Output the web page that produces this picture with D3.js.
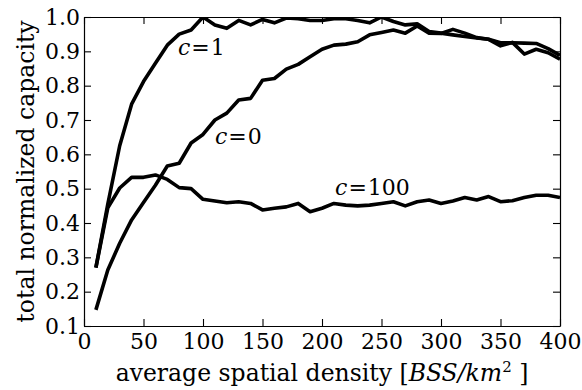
<!DOCTYPE html>
<html>
<head>
<meta charset="utf-8">
<title>Capacity vs density</title>
<script src="https://d3js.org/d3.v7.min.js"></script>
<style>
  body { margin: 0; background: #fff; }
  svg { display: block; }
  text { font-family: "DejaVu Serif", serif; fill: #000; }
</style>
</head>
<body>
<svg id="chart" width="582" height="390"></svg>
<script>
// average spatial density [BSS/km^2]
var density = [10,20,30,40,50,60,70,80,90,100,110,120,130,140,150,160,170,180,190,200,
               210,220,230,240,250,260,270,280,290,300,310,320,330,340,350,360,370,380,390,400];

var c1 = [0.27,0.455,0.625,0.746,0.812,0.865,0.918,0.95,0.962,1.0,
          0.977,0.967,0.99,0.977,0.993,0.983,0.997,0.995,0.99,0.99,
          0.995,0.995,0.99,0.983,1.0,0.987,0.977,0.98,0.958,0.953,
          0.948,0.943,0.939,0.935,0.925,0.925,0.924,0.923,0.908,0.888];

var c0 = [0.147,0.263,0.341,0.409,0.46,0.51,0.566,0.574,0.633,0.658,
          0.70,0.72,0.758,0.763,0.816,0.821,0.848,0.862,0.884,0.906,
          0.918,0.921,0.928,0.948,0.955,0.962,0.953,0.974,0.953,0.952,
          0.964,0.953,0.94,0.935,0.916,0.926,0.892,0.906,0.896,0.877];

var c100 = [0.27,0.444,0.502,0.533,0.533,0.54,0.527,0.503,0.50,0.469,
            0.464,0.459,0.462,0.457,0.438,0.443,0.447,0.457,0.433,0.443,
            0.457,0.452,0.45,0.452,0.457,0.462,0.45,0.462,0.467,0.457,
            0.464,0.474,0.467,0.477,0.462,0.465,0.474,0.481,0.481,0.474];

var xTicks = [0,50,100,150,200,250,300,350,400];
var yTicks = [0.1,0.2,0.3,0.4,0.5,0.6,0.7,0.8,0.9,1.0];

var series = [
  {name: "1", values: c1, lx: 79, ly: 0.888},
  {name: "0", values: c0, lx: 110, ly: 0.63},
  {name: "100", values: c100, lx: 211, ly: 0.481}
];

var m = {top: 17, right: 22, bottom: 64, left: 84};
var W = 582, H = 390;
var w = W - m.left - m.right, h = H - m.top - m.bottom;

var svg = d3.select("#chart");
var g = svg.append("g").attr("transform", `translate(${m.left},${m.top})`);

var x = d3.scaleLinear().domain([0, 400]).range([0, w]);
var y = d3.scaleLinear().domain([0.1, 1.0]).range([h, 0]);

g.append("clipPath").attr("id", "clip")
  .append("rect").attr("width", w).attr("height", h);

var line = d3.line()
  .x((d, i) => x(density[i]))
  .y(d => y(d));

g.append("g").attr("clip-path", "url(#clip)")
  .selectAll("path")
  .data(series)
  .join("path")
  .attr("d", d => line(d.values))
  .attr("fill", "none")
  .attr("stroke", "#000")
  .attr("stroke-width", 3.6)
  .attr("stroke-linejoin", "round");

// frame + inward ticks on all sides
var tl = 7;
var fs = 22;   // tick labels
var lfs = 23.5; // axis titles
var xb = d3.axisBottom(x).tickValues(xTicks).tickSizeInner(-tl).tickSizeOuter(0).tickPadding(7).tickFormat(d3.format("d"));
var xt = d3.axisTop(x).tickValues(xTicks).tickSizeInner(-tl).tickSizeOuter(0).tickFormat("");
var yl = d3.axisLeft(y).tickValues(yTicks).tickSizeInner(-tl).tickSizeOuter(0).tickPadding(4).tickFormat(d3.format(".1f"));
var yr = d3.axisRight(y).tickValues(yTicks).tickSizeInner(-tl).tickSizeOuter(0).tickFormat("");

function style(sel) {
  sel.selectAll("path").attr("stroke", "#000").attr("stroke-width", 1.2);
  sel.selectAll("line").attr("stroke", "#000").attr("stroke-width", 1.1);
  sel.selectAll("text").style("font-family", "DejaVu Serif").style("font-size", fs + "px").attr("fill", "#000");
}

g.append("g").attr("transform", `translate(0,${h})`).call(xb).call(style);
g.append("g").call(xt).call(style);
g.append("g").call(yl).call(style);
g.append("g").attr("transform", `translate(${w},0)`).call(yr).call(style);

// curve labels
var lab = g.append("g").selectAll("text").data(series).join("text")
  .attr("x", d => x(d.lx))
  .attr("y", d => y(d.ly))
  .style("font-size", fs + "px");
lab.append("tspan").style("font-style", "italic").text("c");
lab.append("tspan").attr("dx", 1).text("=");
lab.append("tspan").attr("dx", 1).text(d => d.name);

// axis titles
svg.append("text")
  .attr("transform", `translate(34,${m.top + h / 2}) rotate(-90)`)
  .attr("text-anchor", "middle")
  .style("font-size", lfs + "px")
  .text("total normalized capacity");

var xl = svg.append("text")
  .attr("x", m.left + w / 2)
  .attr("y", 381)
  .attr("text-anchor", "middle")
  .style("font-size", lfs + "px");
xl.append("tspan").text("average spatial density [");
xl.append("tspan").style("font-style", "italic").text("BSS/km");
xl.append("tspan").attr("dy", -9).style("font-size", "15px").text("2");
xl.append("tspan").attr("dy", 9).text(" ]");
</script>
</body>
</html>
